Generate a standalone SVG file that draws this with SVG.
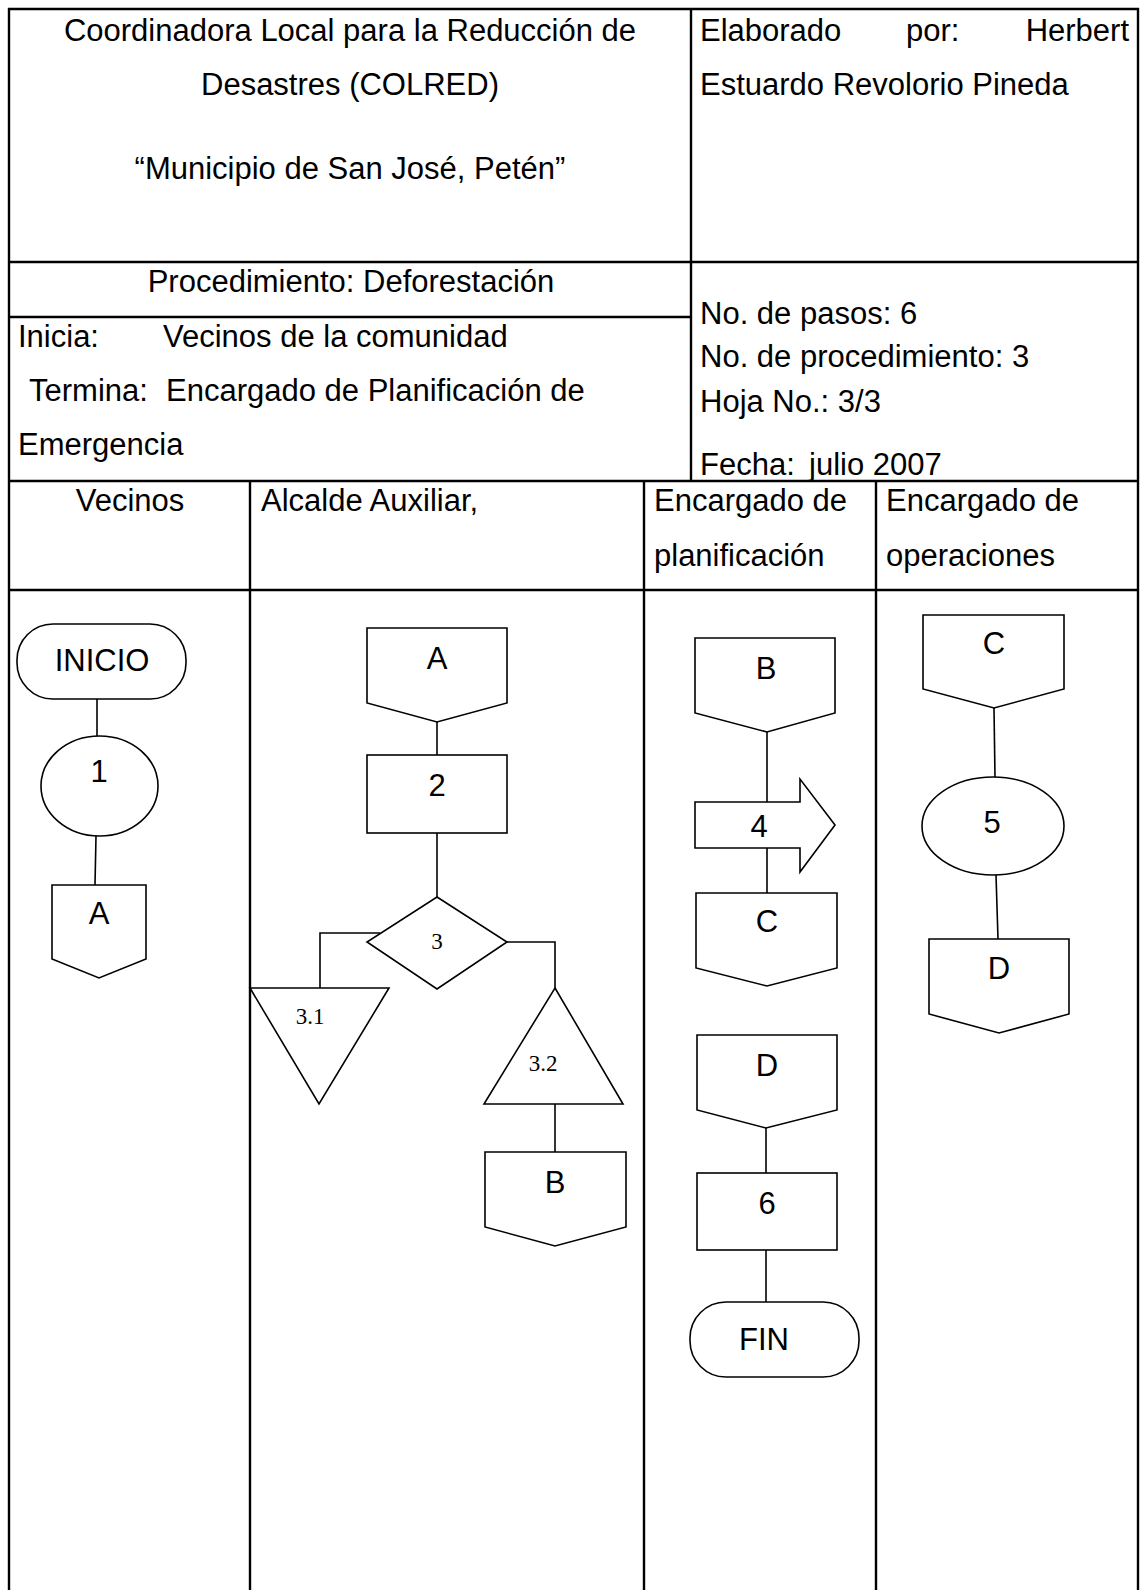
<svg xmlns="http://www.w3.org/2000/svg" width="1141" height="1590" viewBox="0 0 1141 1590">
<style>
.t{font-family:"Liberation Sans",Arial,sans-serif;font-size:31px;fill:#000}
.m{text-anchor:middle}
.s{font-family:"Liberation Serif","Times New Roman",serif;font-size:23px;fill:#000;text-anchor:middle}
.grid line{stroke:#000;stroke-width:2.4}
.shape{fill:#fff;stroke:#000;stroke-width:1.6}
.conn line,.conn polyline{stroke:#000;stroke-width:1.6;fill:none}
</style>
<rect width="1141" height="1590" fill="#fff"/>
<g id="table" class="grid">
<line x1="8" y1="9" x2="1139" y2="9"/>
<line x1="9" y1="8" x2="9" y2="1590"/>
<line x1="1138" y1="8" x2="1138" y2="1590"/>
<line x1="691" y1="9" x2="691" y2="481"/>
<line x1="9" y1="262" x2="1138" y2="262"/>
<line x1="9" y1="317" x2="691" y2="317"/>
<line x1="9" y1="481" x2="1138" y2="481"/>
<line x1="9" y1="590" x2="1138" y2="590"/>
<line x1="250" y1="481" x2="250" y2="1590"/>
<line x1="644" y1="481" x2="644" y2="1590"/>
<line x1="876" y1="481" x2="876" y2="1590"/>
</g>
<g id="header-text">
<text class="t m" x="350" y="41">Coordinadora Local para la Reducción de</text>
<text class="t m" x="350" y="95">Desastres (COLRED)</text>
<text class="t m" x="350" y="179">“Municipio de San José, Petén”</text>
<text class="t" x="700" y="41">Elaborado</text>
<text class="t" x="906" y="41">por:</text>
<text class="t" x="1129" y="41" text-anchor="end">Herbert</text>
<text class="t" x="700" y="95">Estuardo Revolorio Pineda</text>
<text class="t m" x="351" y="292">Procedimiento: Deforestación</text>
<text class="t" x="18" y="347">Inicia:</text>
<text class="t" x="163" y="347">Vecinos de la comunidad</text>
<text class="t" x="29" y="401">Termina:</text>
<text class="t" x="166" y="401">Encargado de Planificación de</text>
<text class="t" x="18" y="455">Emergencia</text>
<text class="t" x="700" y="324">No. de pasos: 6</text>
<text class="t" x="700" y="367">No. de procedimiento: 3</text>
<text class="t" x="700" y="412">Hoja No.: 3/3</text>
<text class="t" x="700" y="475">Fecha:</text>
<text class="t" x="809" y="475">julio 2007</text>
<text class="t m" x="130" y="511">Vecinos</text>
<text class="t" x="261" y="511">Alcalde Auxiliar,</text>
<text class="t" x="654" y="511">Encargado de</text>
<text class="t" x="654" y="566">planificación</text>
<text class="t" x="886" y="511">Encargado de</text>
<text class="t" x="886" y="566">operaciones</text>
</g>
<g id="connectors" class="conn">
<line x1="97" y1="699" x2="97" y2="736"/>
<line x1="96" y1="836" x2="95" y2="885"/>
<line x1="437" y1="722" x2="437" y2="755"/>
<line x1="437" y1="833" x2="437" y2="897"/>
<polyline points="380,933 320,933 320,988"/>
<polyline points="507,942 555,942 555,988"/>
<line x1="555" y1="1104" x2="555" y2="1152"/>
<line x1="767" y1="732" x2="767" y2="802"/>
<line x1="767" y1="848" x2="767" y2="893"/>
<line x1="994" y1="708" x2="995" y2="777"/>
<line x1="996" y1="875" x2="998" y2="939"/>
<line x1="766" y1="1128" x2="766" y2="1173"/>
<line x1="766" y1="1250" x2="766" y2="1302"/>
</g>
<g id="n-inicio"><rect class="shape" x="17" y="624" width="169" height="75" rx="36" ry="36"/><text class="t m" x="102" y="671">INICIO</text></g>
<g id="n-1"><ellipse class="shape" cx="99.5" cy="786" rx="58.5" ry="50"/><text class="t m" x="99" y="782">1</text></g>
<g id="n-a1"><polygon class="shape" points="52,885 146,885 146,959 99,978 52,959"/><text class="t m" x="99" y="924">A</text></g>
<g id="n-a2"><polygon class="shape" points="367,628 507,628 507,703 437,722 367,703"/><text class="t m" x="437" y="669">A</text></g>
<g id="n-2"><rect class="shape" x="367" y="755" width="140" height="78"/><text class="t m" x="437" y="796">2</text></g>
<g id="n-3"><polygon class="shape" points="437,897 507,942 437,989 367,942"/><text class="s" x="437" y="949">3</text></g>
<g id="n-3-1"><polygon class="shape" points="250,988 389,988 319,1104"/><text class="s" x="310" y="1024">3.1</text></g>
<g id="n-3-2"><polygon class="shape" points="555,988 623,1104 484,1104"/><text class="s" x="543" y="1071">3.2</text></g>
<g id="n-b1"><polygon class="shape" points="485,1152 626,1152 626,1227 555,1246 485,1227"/><text class="t m" x="555" y="1193">B</text></g>
<g id="n-b2"><polygon class="shape" points="695,638 835,638 835,713 767,732 695,713"/><text class="t m" x="766" y="679">B</text></g>
<g id="n-4"><polygon class="shape" points="695,802 800,802 800,779 835,825 800,872 800,848 695,848"/><text class="t m" x="759" y="837">4</text></g>
<g id="n-c1"><polygon class="shape" points="696,893 837,893 837,968 767,986 696,968"/><text class="t m" x="767" y="932">C</text></g>
<g id="n-d1"><polygon class="shape" points="697,1035 837,1035 837,1110 766,1128 697,1110"/><text class="t m" x="767" y="1076">D</text></g>
<g id="n-6"><rect class="shape" x="697" y="1173" width="140" height="77"/><text class="t m" x="767" y="1214">6</text></g>
<g id="n-fin"><rect class="shape" x="690" y="1302" width="169" height="75" rx="36" ry="36"/><text class="t m" x="764" y="1350">FIN</text></g>
<g id="n-c2"><polygon class="shape" points="923,615 1064,615 1064,689 994,708 923,689"/><text class="t m" x="994" y="654">C</text></g>
<g id="n-5"><ellipse class="shape" cx="993" cy="826" rx="71" ry="49"/><text class="t m" x="992" y="833">5</text></g>
<g id="n-d2"><polygon class="shape" points="929,939 1069,939 1069,1014 999,1033 929,1014"/><text class="t m" x="999" y="979">D</text></g>
</svg>
